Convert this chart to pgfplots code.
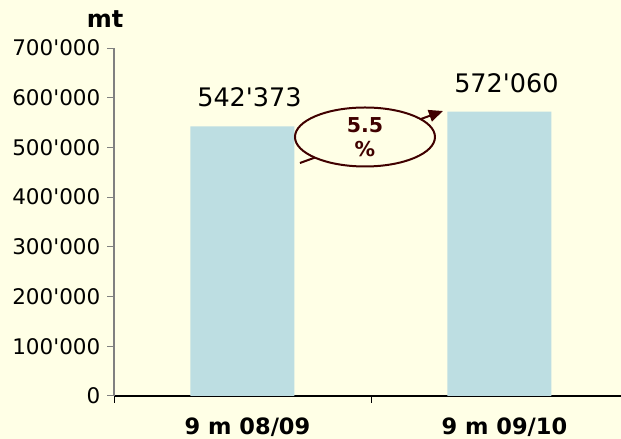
\documentclass[border=0pt]{standalone}
\usepackage{fontspec}
\setmainfont{DejaVu Sans}[Ligatures=TeXOff]
\usepackage{pgfplots}
\pgfplotsset{compat=1.18}
\usetikzlibrary{arrows.meta}
\definecolor{bgc}{RGB}{255,255,230}
\definecolor{barc}{RGB}{189,222,226}
\definecolor{brn}{RGB}{64,0,0}
\begin{document}
\begin{tikzpicture}
\useasboundingbox (0,0) rectangle (621bp,439bp);
\fill[bgc] (0,0) rectangle (621bp,439bp);
\node[anchor=base, inner sep=0pt, font=\fontsize{24bp}{28bp}\selectfont\bfseries] at (105bp,411bp) {mt};
\begin{axis}[
  at={(114bp,43bp)}, anchor=south west,
  scale only axis, width=507bp, height=348bp,
  xmin=-0.5, xmax=1.473, ymin=0, ymax=700000,
  axis x line*=bottom, axis y line*=left,
  x axis line style={black, line width=1.2bp},
  y axis line style={gray, line width=1.2bp},
  tick align=outside, major tick length=7bp,
  x tick style={black, line width=0.8bp},
  y tick style={gray, line width=1bp},
  xtick={-0.5,0.5,1.5}, xticklabels={},
  extra x ticks={0,1},
  extra x tick labels={9 m 08/09, 9 m 09/10},
  extra x tick style={major tick length=0pt,
    tick label style={anchor=base, inner sep=0pt, yshift=-39bp, xshift=5bp,
      font=\fontsize{22.5bp}{26bp}\selectfont\bfseries}},
  ytick={0,100000,...,700000},
  scaled y ticks=false,
  /pgf/number format/fixed,
  /pgf/number format/precision=0,
  /pgf/number format/assume math mode=true,
  /pgf/number format/1000 sep={'},
  yticklabel style={anchor=east, inner sep=0pt, xshift=-6.5bp, font=\fontsize{21.5bp}{26bp}\selectfont},
  ybar, bar width=104bp,
  clip=false,
  nodes near coords={\pgfmathprintnumber[fixed, precision=0, 1000 sep={'}, assume math mode=true]{\pgfplotspointmeta}},
  every node near coord/.append style={anchor=south, inner sep=0pt, yshift=19bp, xshift=7bp,
    font=\fontsize{25.5bp}{30bp}\selectfont, black},
]
\addplot[fill=barc, draw=none] coordinates {(0,542373) (1,572060)};
\draw[brn, line width=2bp, -{Triangle[length=14bp,width=12bp]}] (axis cs:0.2237,468680) -- (axis cs:0.780,573280);
\draw[brn, line width=2bp, fill=bgc] (axis cs:0.4767,521000) ellipse [x radius=70bp, y radius=29.5bp];
\node[brn, align=center, font=\fontsize{20.5bp}{24.5bp}\selectfont\bfseries] at (axis cs:0.4767,521000) {5.5\\\%};
\end{axis}
\end{tikzpicture}
\end{document}
